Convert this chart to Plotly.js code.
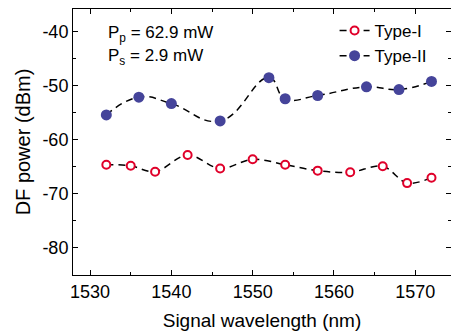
<!DOCTYPE html>
<html>
<head>
<meta charset="utf-8">
<script src="https://cdn.plot.ly/plotly-3.0.1.min.js"></script>
<style>html,body{margin:0;padding:0;background:#fff;}#chart{width:451px;height:335px;}</style>
</head>
<body>
<div id="chart"></div>
<script>
const wavelengthI = [1532, 1535, 1538, 1542, 1546, 1550, 1554, 1558, 1562, 1566, 1569, 1572];
const powerI = [-64.6, -64.8, -65.9, -62.8, -65.3, -63.6, -64.6, -65.7, -66.0, -64.9, -68.0, -67.0];
const wavelengthII = [1532, 1536, 1540, 1546, 1552, 1554, 1558, 1564, 1568, 1572];
const powerII = [-55.4, -52.1, -53.3, -56.5, -48.5, -52.4, -51.8, -50.2, -50.7, -49.2];
const seriesNames = ['Type-I', 'Type-II'];
const xTicks = [1530, 1540, 1550, 1560, 1570];
const yTicks = [-80, -70, -60, -50, -40];

const font = 'Liberation Sans, Arial, sans-serif';
const traces = [
  {
    x: wavelengthI, y: powerI, name: seriesNames[0], mode: 'lines+markers',
    line: {color: '#000', width: 1.5, dash: '7px,5px', shape: 'spline', smoothing: 1},
    marker: {symbol: 'circle', size: 8, color: '#fff', line: {color: '#e0002a', width: 2}}
  },
  {
    x: wavelengthII, y: powerII, name: seriesNames[1], mode: 'lines+markers',
    line: {color: '#000', width: 1.5, dash: '7px,5px', shape: 'spline', smoothing: 1.3},
    marker: {symbol: 'circle', size: 11, color: '#45449a'}
  }
];
const layout = {
  width: 451, height: 335,
  margin: {l: 73, r: 0, t: 9, b: 60},
  paper_bgcolor: '#fff', plot_bgcolor: '#fff',
  font: {family: font, color: '#000', size: 18},
  showlegend: true,
  legend: {x: 0.692, y: 0.985, xanchor: 'left', yanchor: 'top', bgcolor: 'rgba(0,0,0,0)',
           font: {family: font, size: 17}, itemwidth: 30, tracegroupgap: 0},
  xaxis: {
    range: [1527.9, 1574.4], tickvals: xTicks, ticktext: xTicks.map(String),
    ticks: 'inside', ticklen: 5, tickcolor: '#000', showline: true, linecolor: '#000', linewidth: 1,
    mirror: 'ticks', showgrid: false, zeroline: false,
    minor: {dtick: 5, tick0: 1525, ticks: 'inside', ticklen: 3, tickcolor: '#000'},
    tickfont: {size: 18},
    title: {text: 'Signal wavelength (nm)', font: {size: 19}, standoff: 13}
  },
  yaxis: {
    range: [-85, -35.8], tickvals: yTicks, ticktext: yTicks.map(String),
    ticks: 'inside', ticklen: 5, tickcolor: '#000', showline: true, linecolor: '#000', linewidth: 1,
    mirror: 'ticks', showgrid: false, zeroline: false,
    minor: {dtick: 5, tick0: -85, ticks: 'inside', ticklen: 3, tickcolor: '#000'},
    tickfont: {size: 18},
    title: {text: 'DF power (dBm)', font: {size: 20}, standoff: 6}
  },
  annotations: [
    {xref: 'paper', yref: 'paper', x: 0.088, y: 0.905, xanchor: 'left', yanchor: 'middle', showarrow: false,
     text: 'P<sub>p</sub> = 62.9 mW', font: {family: font, size: 17}},
    {xref: 'paper', yref: 'paper', x: 0.088, y: 0.82, xanchor: 'left', yanchor: 'middle', showarrow: false,
     text: 'P<sub>s</sub> = 2.9 mW', font: {family: font, size: 17}}
  ]
};
Plotly.newPlot('chart', traces, layout, {displayModeBar: false, staticPlot: true});
</script>
</body>
</html>
